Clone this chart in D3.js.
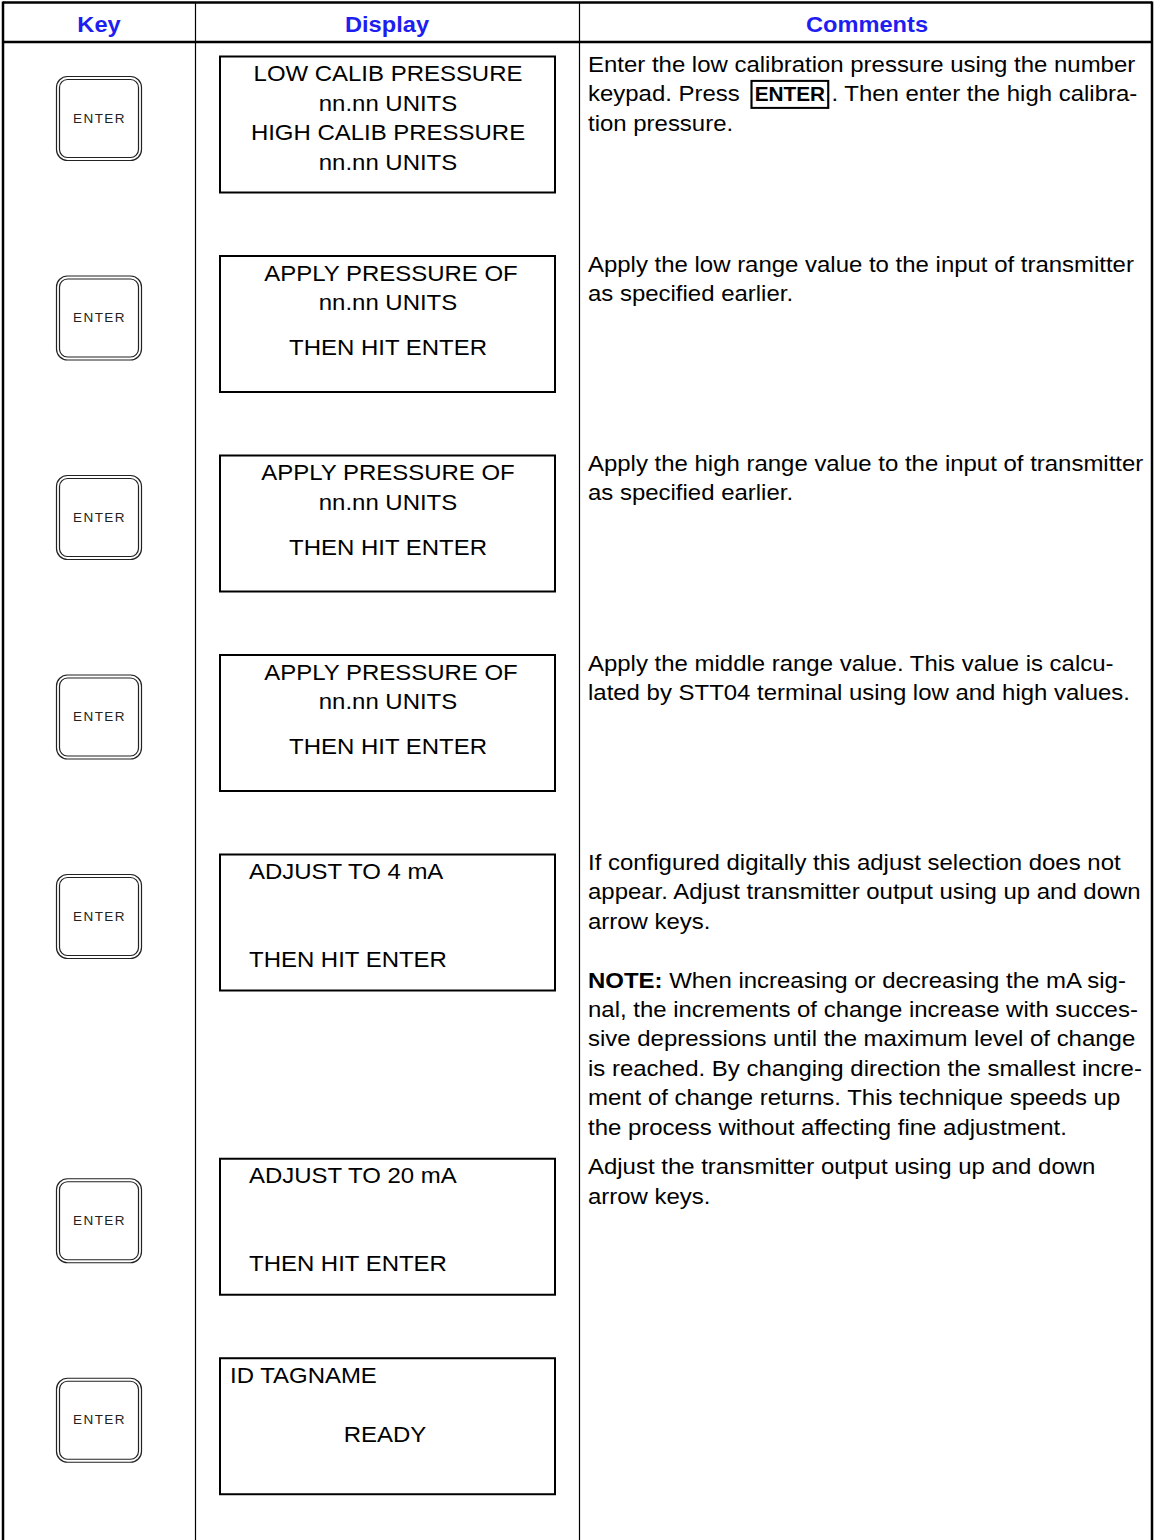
<!DOCTYPE html>
<html><head><meta charset="utf-8">
<script src="https://cdn.jsdelivr.net/npm/d3@7/dist/d3.min.js"></script>
<style>html,body{margin:0;padding:0;background:#fff;}svg{display:block;}</style>
</head><body>
<script>
// ---- data ----
const headers = ["Key", "Display", "Comments"];
const keyLabels = ["ENTER","ENTER","ENTER","ENTER","ENTER","ENTER","ENTER"];
const displayLines = [
  ["LOW CALIB PRESSURE","nn.nn UNITS","HIGH CALIB PRESSURE","nn.nn UNITS"],
  ["APPLY PRESSURE OF","nn.nn UNITS","","THEN HIT ENTER"],
  ["APPLY PRESSURE OF","nn.nn UNITS","","THEN HIT ENTER"],
  ["APPLY PRESSURE OF","nn.nn UNITS","","THEN HIT ENTER"],
  ["ADJUST TO 4 mA","","","THEN HIT ENTER"],
  ["ADJUST TO 20 mA","","","THEN HIT ENTER"],
  ["ID TAGNAME","","READY"]
];
const displayAlign = ["center","center","center","center","left","left","mixed"];
const commentLines = [
  ["Enter the low calibration pressure using the number","keypad. Press [ENTER]. Then enter the high calibra-","tion pressure."],
  ["Apply the low range value to the input of transmitter","as specified earlier."],
  ["Apply the high range value to the input of transmitter","as specified earlier."],
  ["Apply the middle range value. This value is calcu-","lated by STT04 terminal using low and high values."],
  ["If configured digitally this adjust selection does not","appear. Adjust transmitter output using up and down","arrow keys.","","*NOTE:* When increasing or decreasing the mA sig-","nal, the increments of change increase with succes-","sive depressions until the maximum level of change","is reached. By changing direction the smallest incre-","ment of change returns. This technique speeds up","the process without affecting fine adjustment."],
  ["Adjust the transmitter output using up and down","arrow keys."],
  []
];
// row slot units (row 5 is taller because of the note)
const rowUnits = [1,1,1,1,1.525,1,1];

// ---- layout ----
const W = 1156, H = 1540;
const svg = d3.select("body").append("svg").attr("width", W).attr("height", H);
const FONT = "Arial, 'Liberation Sans', Helvetica, sans-serif";
const SX = 1.065;
const colX = [3, 195.5, 579.5, 1152];
const cum = [0]; rowUnits.forEach(u => cum.push(cum[cum.length-1] + u));
const y = d3.scaleLinear().domain([0, cum[cum.length-1]]).range([56, 56 + 199.5 * cum[cum.length-1]]);

// helper: text with horizontal stretch
function stext(parent, x, yy, anchor, size, opts) {
  opts = opts || {};
  const g = parent.append("g").attr("transform", `translate(${x},${yy}) scale(${opts.sx || SX},1)`);
  const t = g.append("text").attr("x", 0).attr("y", 0).attr("text-anchor", anchor)
    .attr("font-family", FONT).attr("font-size", size).attr("fill", opts.fill || "#000");
  if (opts.bold) t.attr("font-weight", "bold");
  return {g, t};
}

// table lines
svg.append("line").attr("x1", colX[0]).attr("x2", colX[3]).attr("y1", 2.5).attr("y2", 2.5).attr("stroke","#000").attr("stroke-width",2.5);
svg.append("line").attr("x1", colX[0]).attr("x2", colX[3]).attr("y1", 42).attr("y2", 42).attr("stroke","#000").attr("stroke-width",2.5);
svg.append("line").attr("x1", colX[0]).attr("x2", colX[0]).attr("y1", 1.5).attr("y2", H).attr("stroke","#000").attr("stroke-width",2.5);
svg.append("line").attr("x1", colX[3]).attr("x2", colX[3]).attr("y1", 1.5).attr("y2", H).attr("stroke","#000").attr("stroke-width",2.5);
[colX[1], colX[2]].forEach(x => svg.append("line").attr("x1", x).attr("x2", x).attr("y1", 2).attr("y2", H).attr("stroke","#000").attr("stroke-width",1.2));

// headers
const headCx = [99, 387, 867];
headers.forEach((h, i) => {
  stext(svg, headCx[i], 31.5, "middle", 22, {bold: true, fill: "#1e1ef0", sx: 1.075}).t.text(h);
});

const LH = 29.4;
keyLabels.forEach((lab, i) => {
  const top = y(cum[i]);
  // key button
  const g = svg.append("g").attr("transform", `translate(56,${top + 20})`);
  g.append("rect").attr("x",0.5).attr("y",0.5).attr("width",85).attr("height",84).attr("rx",11).attr("fill","#fff").attr("stroke","#222").attr("stroke-width",1.2);
  g.append("rect").attr("x",3.5).attr("y",3.5).attr("width",79).attr("height",78).attr("rx",8).attr("fill","none").attr("stroke","#222").attr("stroke-width",1.2);
  g.append("text").attr("x",43.5).attr("y",46.5).attr("text-anchor","middle").attr("font-family",FONT)
    .attr("font-size",13.5).attr("letter-spacing",1.4).attr("fill","#222").text(lab);

  // display box
  svg.append("rect").attr("x",220).attr("y",top+0.5).attr("width",335).attr("height",136).attr("fill","none").attr("stroke","#000").attr("stroke-width",2);
  const lines = displayLines[i];
  const al = displayAlign[i];
  const ys = [top+25, top+54.5, top+84, top+113.5];
  lines.forEach((t, j) => {
    if (!t) return;
    let x, anchor, yy;
    if (al === "center") { x = (i === 0 || j === 1 || j === 3) ? 388 : (i === 2 ? 388 : 391); anchor = "middle"; yy = (i === 0) ? ys[j] : (j < 2 ? ys[j] : top + 99.5); }
    else if (al === "left") { x = 249; anchor = "start"; yy = j === 0 ? top + 25 : top + 113; }
    else { if (j === 0) { x = 230; anchor = "start"; yy = top + 25; } else { x = 385; anchor = "middle"; yy = top + 84.5; } }
    stext(svg, x, yy, anchor, 22.5).t.text(t);
  });

  // comments
  commentLines[i].forEach((t, j) => {
    if (!t) return;
    const ty = top + 16 + j * LH;
    const {g: cg, t: tx} = stext(svg, 588, ty, "start", 22.5);
    const boxM = t.match(/^(.*)\[(.*)\](.*)$/);
    const boldM = t.match(/^\*(.*)\*(.*)$/);
    if (boxM) {
      const s1 = tx.append("tspan").text(boxM[1].trim());
      const preW = s1.node().getComputedTextLength();
      const s2 = tx.append("tspan").attr("dx", 14).attr("font-weight","bold").attr("font-size",19.5).text(boxM[2]);
      const midW = s2.node().getComputedTextLength();
      tx.append("tspan").attr("dx", 6).text(boxM[3]);
      cg.append("rect").attr("x", preW + 11).attr("y", -20.5).attr("width", midW + 6)
        .attr("height", 27).attr("fill","none").attr("stroke","#000").attr("stroke-width",2);
    } else if (boldM) {
      tx.append("tspan").attr("font-weight","bold").text(boldM[1]);
      tx.append("tspan").text(boldM[2]);
    } else tx.text(t);
  });
});
</script>
</body></html>
